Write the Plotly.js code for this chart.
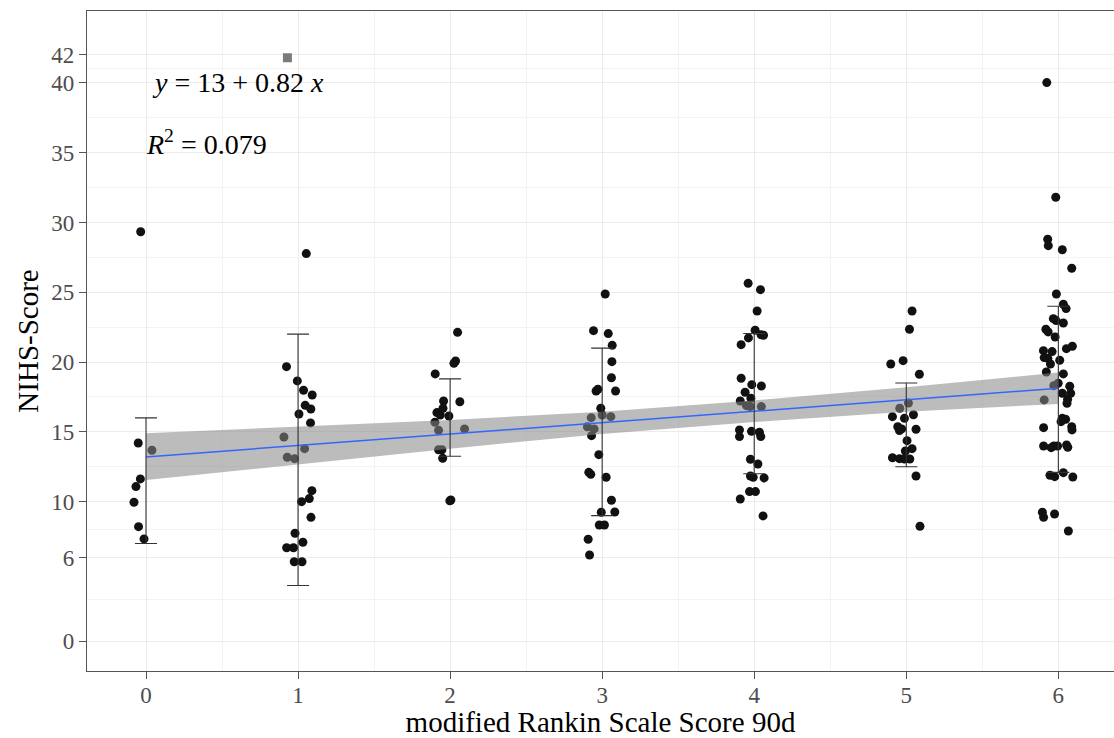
<!DOCTYPE html>
<html><head><meta charset="utf-8">
<script src="https://cdn.plot.ly/plotly-3.0.1.min.js"></script>
<style>html,body{margin:0;padding:0;background:#fff}</style>
</head><body><div id="chart" style="width:1114px;height:738px"></div>
<script>
// mRS categories and tick values
const mrsCategories = [0, 1, 2, 3, 4, 5, 6];
const xMinorVals = [0.5, 1.5, 2.5, 3.5, 4.5, 5.5];
const yTickVals = [0, 6, 10, 15, 20, 25, 30, 35, 40, 42];
const yMinorVals = [3, 8, 12.5, 17.5, 22.5, 27.5, 32.5, 37.5, 41];

// jittered observations (x = jittered mRS, y = NIHS score)
const x_mrs0 = [-0.035,-0.051,0.039,-0.037,-0.066,-0.079,-0.049,-0.013];
const y_mrs0 = [29.34,14.2,13.68,11.63,11.08,9.96,8.21,7.33];
const x_mrs1 = [1.054,0.924,0.995,1.036,1.093,1.047,1.084,1.006,1.082,0.907,1.043,0.929,0.977,1.091,1.074,1.023,1.085,0.98,1.032,0.925,0.97,0.975,1.026];
const y_mrs1 = [27.77,19.67,18.65,17.98,17.64,16.9,16.64,16.28,15.64,14.63,13.8,13.18,13.08,10.79,10.22,10.0,8.88,7.74,7.09,6.7,6.7,5.7,5.7];
const x_mrs2 = [2.049,2.036,2.025,1.902,2.064,1.957,1.953,1.913,1.935,1.992,1.9,1.924,2.095,1.924,1.946,1.951,2.005,1.998];
const y_mrs2 = [22.13,20.08,19.91,19.15,17.16,17.21,16.69,16.38,16.21,16.14,15.69,15.11,15.21,13.72,13.72,13.11,10.12,10.06];
const x_mrs3 = [3.02,2.943,3.04,3.066,3.064,3.061,2.972,2.96,3.088,2.991,3.0,3.057,2.928,2.903,2.947,2.93,2.978,2.912,2.925,3.026,3.061,2.994,3.083,2.981,3.015,2.908,2.917];
const y_mrs3 = [24.88,22.25,22.04,21.2,20.03,18.88,18.05,17.93,17.93,16.69,16.21,16.09,16.02,15.37,15.21,14.73,13.37,12.1,11.96,11.75,10.1,9.24,9.26,8.33,8.33,7.31,6.18];
const x_mrs4 = [3.96,4.041,4.019,4.006,4.045,4.061,3.962,3.914,3.914,3.984,4.047,3.94,3.978,3.908,3.949,3.973,4.047,3.903,3.903,3.982,4.034,4.043,3.975,4.024,3.975,3.993,4.065,3.969,4.008,3.908,4.058];
const y_mrs4 = [25.64,25.19,23.66,22.28,21.96,21.92,21.73,21.25,18.84,18.38,18.29,17.84,17.41,17.21,16.88,16.81,16.81,15.14,14.66,15.04,14.97,14.66,13.04,12.7,11.84,11.75,11.7,10.72,10.72,10.19,8.98];
const x_mrs5 = [5.038,5.021,4.979,4.898,5.086,5.014,4.957,4.909,4.988,5.047,4.944,4.97,4.955,5.064,5.005,5.038,4.994,4.909,4.955,4.988,5.023,5.064,5.09];
const y_mrs5 = [23.66,22.35,20.1,19.86,19.13,17.07,16.69,16.09,15.97,16.23,15.37,15.21,15.09,15.19,14.37,13.8,13.63,13.15,13.08,13.06,13.06,11.84,8.24];
const x_mrs6 = [5.924,5.983,5.93,5.934,6.026,6.088,5.987,6.033,6.051,5.967,5.985,6.033,5.918,5.933,5.979,6.092,6.053,5.902,5.959,5.907,5.931,5.948,6.009,5.921,6.033,6.075,5.999,5.97,6.026,6.081,6.061,6.057,5.907,6.026,6.048,6.018,6.088,6.09,5.903,5.903,5.953,5.97,5.995,6.054,6.062,5.945,5.976,6.033,6.095,5.895,5.903,5.975,6.066];
const y_mrs6 = [40.02,31.81,28.8,28.34,28.05,26.72,24.88,24.14,23.83,23.11,22.97,22.8,22.35,22.16,21.8,21.13,20.96,20.82,20.75,20.32,20.27,19.86,20.13,19.29,19.15,18.27,18.48,18.31,17.77,17.77,17.34,17.05,17.29,15.97,15.9,15.73,15.37,15.14,15.3,13.99,13.87,13.99,13.99,14.06,13.9,11.89,11.79,12.08,11.77,9.24,8.88,9.12,7.9];

// grey marker near the top
const markX = [0.93];
const markY = [41.8];

// error bars (upper / lower ends per mRS)
const errUpper = [16.0, 22.0, 18.8, 21.0, 22.05, 18.5, 24.0];
const errLower = [7.0, 4.0, 13.25, 9.0, 12.0, 12.5, 12.1];

// linear fit and its confidence band
const fitX = [0, 6];
const fitY = [13.2, 18.12];
const bandX = [0, 1, 2, 3, 4, 5, 6];
const bandUpper = [14.9, 15.35, 15.85, 16.45, 17.25, 18.2, 19.25];
const bandLower = [11.55, 12.7, 13.8, 14.85, 15.7, 16.45, 17.0];

const ptsX = [].concat(x_mrs0, x_mrs1, x_mrs2, x_mrs3, x_mrs4, x_mrs5, x_mrs6);
const ptsY = [].concat(y_mrs0, y_mrs1, y_mrs2, y_mrs3, y_mrs4, y_mrs5, y_mrs6);
const errMid = errUpper.map((u, i) => (u + errLower[i]) / 2);

const traces = [
  {type:'scatter', mode:'markers', x: ptsX, y: ptsY, hoverinfo:'skip',
   marker:{size:9, color:'#111111'}},
  {type:'scatter', mode:'markers', x: markX, y: markY,
   marker:{size:9, color:'#7a7a7a', symbol:'square'}},
  {type:'scatter', mode:'lines', x: bandX.concat(bandX.slice().reverse()),
   y: bandUpper.concat(bandLower.slice().reverse()), fill:'toself',
   fillcolor:'rgba(136,136,136,0.56)', line:{width:0}},
  {type:'scatter', mode:'lines', x: fitX, y: fitY, line:{color:'#3366FF', width:1.5}},
  {type:'scatter', mode:'markers', x: mrsCategories, y: errMid,
   marker:{opacity:0, size:1},
   error_y:{type:'data', symmetric:false,
     array: errUpper.map((u, i) => u - errMid[i]),
     arrayminus: errLower.map((l, i) => errMid[i] - l),
     color:'#333333', thickness:1.1, width:11}}
];

const serif = '"Liberation Serif", "Times New Roman", serif';
const layout = {
  width:1114, height:738,
  margin:{l:87, r:0, t:11, b:67},
  paper_bgcolor:'#ffffff', plot_bgcolor:'#ffffff',
  showlegend:false,
  font:{family:serif, color:'#000'},
  xaxis:{
    range:[-0.388, 6.366], tickvals: mrsCategories, ticktext: mrsCategories.map(String),
    ticks:'outside', ticklen:7, tickcolor:'#555', tickwidth:1, ticklabelstandoff:-4,
    tickfont:{size:23, color:'#4d4d4d', family:serif},
    showline:true, linecolor:'#555', linewidth:1.2, mirror:true,
    showgrid:true, gridcolor:'#ebebeb', gridwidth:1, zeroline:false,
    minor:{tickvals: xMinorVals, showgrid:true, gridcolor:'#f3f3f3', gridwidth:1, ticks:''},
    title:{text:'modified Rankin Scale Score 90d', font:{size:29, color:'#000', family:serif}, standoff:12}
  },
  yaxis:{
    range:[-2.13, 45.15], tickvals: yTickVals, ticktext: yTickVals.map(String),
    ticks:'outside', ticklen:7, tickcolor:'#555', tickwidth:1,
    tickfont:{size:23, color:'#4d4d4d', family:serif},
    showline:true, linecolor:'#555', linewidth:1.2, mirror:false,
    showgrid:true, gridcolor:'#ebebeb', gridwidth:1, zeroline:false,
    minor:{tickvals: yMinorVals, showgrid:true, gridcolor:'#f3f3f3', gridwidth:1, ticks:''},
    title:{text:'NIHS-Score', font:{size:29, color:'#000', family:serif}, standoff:4}
  },
  annotations:[
    {xref:'x', yref:'y', x:0.025, y:40, xanchor:'left', yanchor:'middle', showarrow:false,
     text:'<i>y</i> = 13 + 0.82 <i>x</i>', font:{size:28, color:'#000', family:serif}},
    {xref:'x', yref:'y', x:-0.01, y:35.7, xanchor:'left', yanchor:'middle', showarrow:false,
     text:'<i>R</i><sup>2</sup> = 0.079', font:{size:28, color:'#000', family:serif}}
  ]
};
Plotly.newPlot('chart', traces, layout, {displayModeBar:false, staticPlot:true});
</script></body></html>
